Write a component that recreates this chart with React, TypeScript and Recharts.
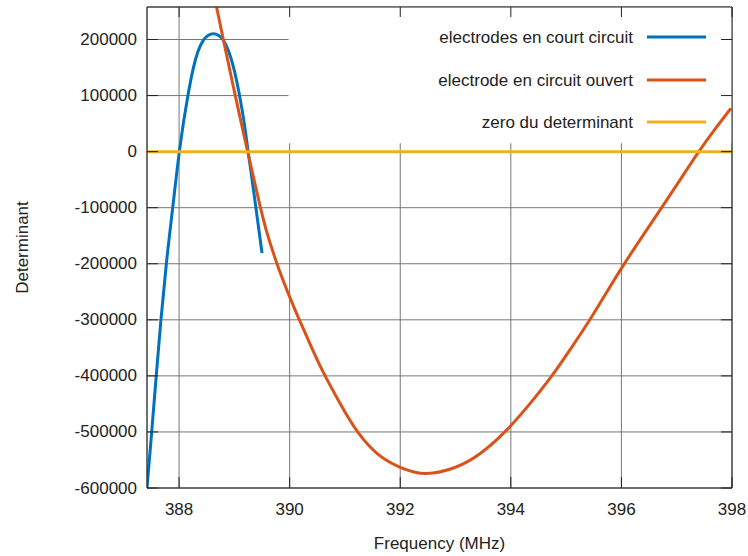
import React from 'react';
import { LineChart, Line, XAxis, YAxis, CartesianGrid, ReferenceArea, Legend } from 'recharts';

// electrodes en court circuit (blue)
const freqCourt = [387.42, 387.505, 387.587, 387.672, 387.77, 387.885, 388.005, 388.16, 388.26, 388.34, 388.44, 388.53, 388.62, 388.71, 388.8, 388.9, 388.98, 389.09, 389.18, 389.25, 389.39, 389.5];
const detCourt = [-600000, -500000, -400000, -300000, -200000, -100000, 0, 100000, 150000, 178000, 199000, 207500, 210500, 207500, 199000, 178000, 152000, 102000, 50000, 0, -100000, -181000];

// electrode en circuit ouvert (orange)
const freqOuvert = [388.67, 388.8, 389.01, 389.24, 389.46, 389.6, 389.8, 390.0, 390.18, 390.4, 390.6, 390.9, 391.23, 391.6, 392.0, 392.47, 393.0, 393.44, 393.9, 394.35, 394.74, 395.1, 395.44, 395.75, 396.04, 396.4, 396.74, 397.07, 397.4, 397.7, 397.98];
const detOuvert = [262000, 200000, 103000, 0, -95000, -148000, -208000, -259000, -301000, -350000, -392000, -447000, -500000, -540000, -563000, -574000, -563000, -539000, -499000, -449000, -400000, -349000, -298000, -248000, -202000, -148000, -98000, -49000, 0, 41000, 77000];

// zero du determinant (yellow)
const freqZero = [387.42, 398];
const detZero = [0, 0];

const xTicks = [388, 390, 392, 394, 396, 398];
const yTicks = [-600000, -500000, -400000, -300000, -200000, -100000, 0, 100000, 200000];

const seriesNames = ['electrodes en court circuit', 'electrode en circuit ouvert', 'zero du determinant'];
const seriesColors = ['#0072BD', '#D95319', '#EDB120'];

const toRows = (fs: number[], vs: number[]) => fs.map((f, i) => ({ f, v: vs[i] }));

const FONT = '"Liberation Sans", Arial, Helvetica, sans-serif';
const INK = '#222';
const legendY = [37, 80, 122];

const LeftTick = ({ x, y, payload }: any) => (
  <g>
    <line x1={x} x2={x + 11} y1={y} y2={y} stroke={INK} />
    <text x={x - 10} y={y} textAnchor="end" dominantBaseline="central" fontFamily={FONT} fontSize={17} fill={INK}>
      {payload.value}
    </text>
  </g>
);

const RightTick = ({ x, y }: any) => <line x1={x - 11} x2={x} y1={y} y2={y} stroke={INK} />;

const BottomTick = ({ x, y, payload }: any) => (
  <g>
    <line x1={x} x2={x} y1={y - 11} y2={y} stroke={INK} />
    <text x={x} y={y + 21} textAnchor="middle" dominantBaseline="central" fontFamily={FONT} fontSize={17} fill={INK}>
      {payload.value}
    </text>
  </g>
);

const TopTick = ({ x, y }: any) => <line x1={x} x2={x} y1={y} y2={y + 10} stroke={INK} />;

export default function App() {
  const court = toRows(freqCourt, detCourt);
  const ouvert = toRows(freqOuvert, detOuvert);
  const zero = toRows(freqZero, detZero);
  const xDomain = [387.42, 398];
  const yDomain = [-600000, 258000];

  return (
    <div style={{ position: 'absolute', left: 0, top: 0, width: 748, height: 556, background: '#fff' }}>
      <LineChart width={748} height={556} margin={{ top: 0, right: 0, bottom: 0, left: 0 }}>
        <CartesianGrid stroke="#777" strokeWidth={1} />
        <XAxis
          type="number"
          dataKey="f"
          domain={xDomain}
          allowDataOverflow
          ticks={xTicks}
          interval={0}
          height={68}
          tickSize={0}
          tickMargin={0}
          tickLine={false}
          axisLine={{ stroke: INK }}
          tick={<BottomTick />}
          label={{
            content: ({ viewBox }: any) => (
              <text x={viewBox.x + viewBox.width / 2} y={543} textAnchor="middle" dominantBaseline="central" fontFamily={FONT} fontSize={17} fill={INK}>
                Frequency (MHz)
              </text>
            ),
          }}
        />
        <XAxis
          xAxisId="top"
          orientation="top"
          type="number"
          dataKey="f"
          domain={xDomain}
          allowDataOverflow
          ticks={xTicks}
          interval={0}
          height={7}
          tickSize={0}
          tickMargin={0}
          tickLine={false}
          axisLine={{ stroke: INK }}
          tick={<TopTick />}
        />
        <YAxis
          type="number"
          domain={yDomain}
          allowDataOverflow
          ticks={yTicks}
          interval={0}
          width={147}
          tickSize={0}
          tickMargin={0}
          tickLine={false}
          axisLine={{ stroke: INK }}
          tick={<LeftTick />}
          label={{
            content: ({ viewBox }: any) => {
              const cy = viewBox.y + viewBox.height / 2;
              return (
                <text x={22} y={cy} transform={`rotate(-90 22 ${cy})`} textAnchor="middle" dominantBaseline="central" fontFamily={FONT} fontSize={17} fill={INK}>
                  Determinant
                </text>
              );
            },
          }}
        />
        <YAxis
          yAxisId="right"
          orientation="right"
          type="number"
          domain={yDomain}
          allowDataOverflow
          ticks={yTicks}
          interval={0}
          width={16}
          tickSize={0}
          tickMargin={0}
          tickLine={false}
          axisLine={{ stroke: INK }}
          tick={<RightTick />}
        />
        {/* white background behind the key */}
        <ReferenceArea x1={389.98} x2={398} y1={15000} y2={258000} fill="#fff" fillOpacity={1} stroke="none" ifOverflow="hidden" />
        <Line data={court} dataKey="v" name={seriesNames[0]} type="monotone" stroke={seriesColors[0]} strokeWidth={3} dot={false} activeDot={false} isAnimationActive={false} />
        <Line data={ouvert} dataKey="v" name={seriesNames[1]} type="natural" stroke={seriesColors[1]} strokeWidth={3} dot={false} activeDot={false} isAnimationActive={false} />
        <Line data={zero} dataKey="v" name={seriesNames[2]} type="linear" stroke={seriesColors[2]} strokeWidth={3} dot={false} activeDot={false} isAnimationActive={false} />
        <Legend
          layout="vertical"
          verticalAlign="middle"
          align="center"
          wrapperStyle={{ left: 0, top: 0, width: 748, height: 556, pointerEvents: 'none' }}
          content={() => (
            <svg width={748} height={556} style={{ position: 'absolute', left: 0, top: 0 }}>
              {seriesNames.map((name, i) => (
                <g key={name}>
                  <text x={633} y={legendY[i]} textAnchor="end" dominantBaseline="central" fontFamily={FONT} fontSize={17} fill={INK}>
                    {name}
                  </text>
                  <line x1={647} x2={706} y1={legendY[i]} y2={legendY[i]} stroke={seriesColors[i]} strokeWidth={3} />
                </g>
              ))}
            </svg>
          )}
        />
      </LineChart>
    </div>
  );
}
